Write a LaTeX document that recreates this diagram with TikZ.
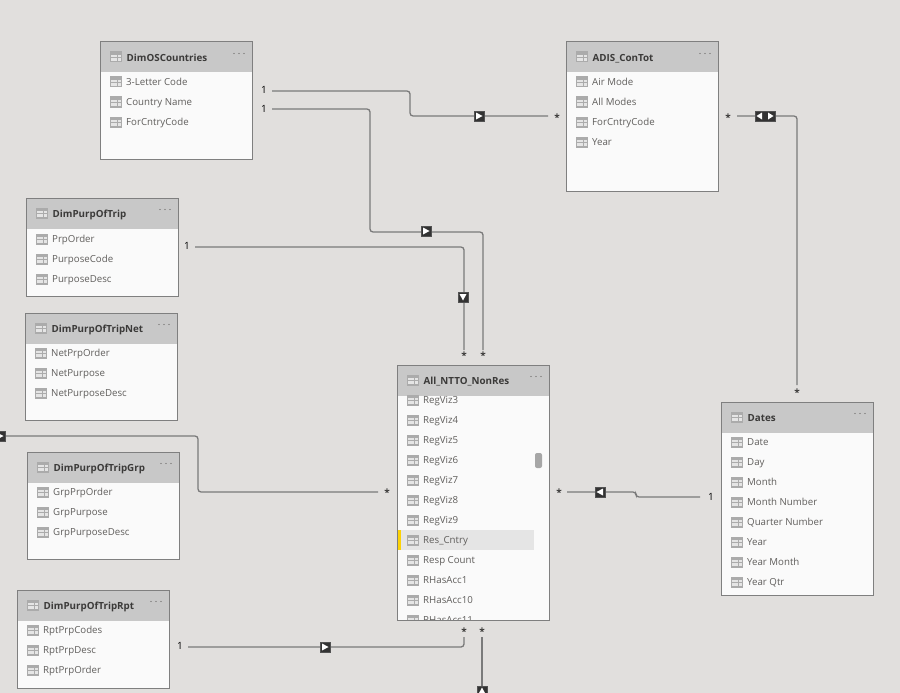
\documentclass[tikz,border=0pt]{standalone}
\usepackage{fontspec}
\setmainfont{Open Sans}
\usetikzlibrary{calc}
\definecolor{bgc}{HTML}{E1DFDD}
\definecolor{hdc}{HTML}{C8C8C8}
\definecolor{bodyc}{HTML}{FAFAFA}
\definecolor{edgec}{HTML}{7F7F7F}
\definecolor{txtc}{HTML}{605E5C}
\definecolor{ttlc}{HTML}{3B3A39}
\definecolor{linec}{HTML}{7A7A7A}
\definecolor{iconc}{HTML}{ABABAB}
\definecolor{mkc}{HTML}{333333}
\tikzset{
  x=1pt,y=-1pt,
  tablebox/.style={draw=edgec,line width=1pt,fill=bodyc,inner sep=0pt,outer sep=0pt,minimum width=152pt,anchor=north west},
  fieldtxt/.style={anchor=base west,inner sep=0pt,text=txtc,font=\fontsize{9.7}{11}\selectfont},
  titletxt/.style={anchor=base west,inner sep=0pt,text=ttlc,font=\fontsize{9.8}{11}\selectfont\bfseries},
  cardone/.style={inner sep=0pt,text=black,font=\fontsize{10}{11}\selectfont},
  cardmany/.style={inner sep=0pt,text=ttlc,font=\fontsize{10}{10}\selectfont\bfseries},
  rel/.style={draw=linec,line width=1.3pt,rounded corners=3pt},
  relmark/.style={fill=mkc,draw=mkc!85!white,inner sep=0pt,minimum size=10pt},
  relmarkwide/.style={fill=mkc,draw=mkc!85!white,inner sep=0pt,minimum width=20pt,minimum height=10pt},
}
% grid icon: #1 x, #2 y centre
\newcommand{\gridicon}[2]{%
  \fill[iconc] (#1-6,#2-5.5) rectangle (#1+6,#2+5.5);
  \fill[white!90!black] (#1-5,#2-2.4) rectangle (#1-2,#2-0.4);
  \fill[white!90!black] (#1-1.2,#2-2.4) rectangle (#1+1.2,#2-0.4);
  \fill[white!90!black] (#1+2,#2-2.4) rectangle (#1+5,#2-0.4);
  \fill[white!90!black] (#1-5,#2+0.6) rectangle (#1-2,#2+4.4);
  \fill[white!90!black] (#1-1.2,#2+0.6) rectangle (#1+1.2,#2+4.4);
  \fill[white!90!black] (#1+2,#2+0.6) rectangle (#1+5,#2+4.4);
}
% table frame: name, x, y, height, title
\newcommand{\tableframe}[5]{%
  \node[tablebox,minimum height=#4pt] (#1) at (#2-0.5,#3) {};
  \fill[hdc] (#2-0.5,#3) rectangle (#2+151.5,#3+30.5);
  \draw[edgec,line width=1pt] (#2-0.5,#3) rectangle (#2+151.5,#3+#4);
  \gridicon{#2+14.5}{#3+15}
  \node[titletxt] (#1-t) at (#2+25.5,#3+19.5) {#5};
  \foreach \d in {0,5,10} \fill[txtc] (#2+133+\d,#3+11.5) circle (0.6);
}
% field row: x of table, y centre, name
\newcommand{\fieldrow}[3]{%
  \gridicon{#1+14.5}{#2}
  \node[fieldtxt] at (#1+25,#2+3.6) {#3};
}
% marker: name, x, y, rotation (0 = points right)
\newcommand{\mkr}[4]{%
  \node[relmark] (#1) at (#2,#3) {};
  \fill[white,rotate around={#4:(#1.center)}] ($(#1.center)+(-3,-3.5)$) -- ($(#1.center)+(3.5,0)$) -- ($(#1.center)+(-3,3.5)$) -- cycle;
}
\begin{document}
\begin{tikzpicture}
\useasboundingbox (0,0) rectangle (900,693);
\fill[bgc] (0,0) rectangle (900,693);

% --- tables
\tableframe{os}{101}{42}{117}{DimOSCountries}
\fieldrow{101}{82}{3-Letter Code}
\fieldrow{101}{102}{Country Name}
\fieldrow{101}{122}{ForCntryCode}

\tableframe{adis}{567}{42}{149}{ADIS\_ConTot}
\fieldrow{567}{82}{Air Mode}
\fieldrow{567}{102}{All Modes}
\fieldrow{567}{122}{ForCntryCode}
\fieldrow{567}{142}{Year}

\tableframe{trip}{27}{198}{98}{DimPurpOfTrip}
\fieldrow{27}{239}{PrpOrder}
\fieldrow{27}{259}{PurposeCode}
\fieldrow{27}{279}{PurposeDesc}

\tableframe{net}{26}{313}{107}{DimPurpOfTripNet}
\fieldrow{26}{353}{NetPrpOrder}
\fieldrow{26}{373}{NetPurpose}
\fieldrow{26}{393}{NetPurposeDesc}

\tableframe{grp}{28}{452}{107}{DimPurpOfTripGrp}
\fieldrow{28}{492}{GrpPrpOrder}
\fieldrow{28}{512}{GrpPurpose}
\fieldrow{28}{532}{GrpPurposeDesc}

\tableframe{rpt}{18}{590}{98}{DimPurpOfTripRpt}
\fieldrow{18}{630}{RptPrpCodes}
\fieldrow{18}{650}{RptPrpDesc}
\fieldrow{18}{670}{RptPrpOrder}

\tableframe{dates}{722}{402}{193}{Dates}
\fieldrow{722}{442}{Date}
\fieldrow{722}{462}{Day}
\fieldrow{722}{482}{Month}
\fieldrow{722}{502}{Month Number}
\fieldrow{722}{522}{Quarter Number}
\fieldrow{722}{542}{Year}
\fieldrow{722}{562}{Year Month}
\fieldrow{722}{582}{Year Qtr}

\tableframe{ntto}{398}{365}{255}{All\_NTTO\_NonRes}
\fill[black!10] (398,530) rectangle (534,550);
\fill[yellow!70!orange] (397.5,530) rectangle (401,550);
\begin{scope}
\clip (398,395.5) rectangle (549,619.5);
\fieldrow{398}{400}{RegViz3}
\fieldrow{398}{420}{RegViz4}
\fieldrow{398}{440}{RegViz5}
\fieldrow{398}{460}{RegViz6}
\fieldrow{398}{480}{RegViz7}
\fieldrow{398}{500}{RegViz8}
\fieldrow{398}{520}{RegViz9}
\fieldrow{398}{540}{Res\_Cntry}
\fieldrow{398}{560}{Resp Count}
\fieldrow{398}{580}{RHasAcc1}
\fieldrow{398}{600}{RHasAcc10}
\fieldrow{398}{620}{RHasAcc11}
\end{scope}
\fill[black!35,rounded corners=2pt] (535,453) rectangle (542,468);

% --- cardinality labels
\node[cardone] (a1) at (264,90) {1};
\node[cardmany] (a2) at (557,118) {*};
\node[cardone] (b1) at (264,109) {1};
\node[cardmany] (b2) at (483,356) {*};
\node[cardone] (c1) at (187,246) {1};
\node[cardmany] (c2) at (464,356) {*};
\node[cardmany] (d1) at (728,118) {*};
\node[cardmany] (d2) at (797,393) {*};
\node[cardmany] (e2) at (387,493) {*};
\node[cardmany] (f1) at (559,493) {*};
\node[cardone] (f2) at (711,497) {1};
\node[cardone] (g1) at (180,646) {1};
\node[cardmany] (g2) at (464,632) {*};
\node[cardmany] (h1) at (482,632) {*};
\coordinate (eL) at (0,436);
\coordinate (hB) at (482,693);

% --- connectors
\draw[rel] ($(a1.center)+(8,1)$) -- (410,91) -- (410,116) -- ($(a2.center)+(-9,-2)$);
\draw[rel] ($(b1.center)+(8,0)$) -- (370,109) -- (370,232) -- (483,232) -- ($(b2.center)+(0,-6)$);
\draw[rel] ($(c1.center)+(8,1)$) -- (464,247) -- ($(c2.center)+(0,-6)$);
\draw[rel] ($(d1.center)+(9,-2)$) -- (797,116) -- ($(d2.center)+(0,-8)$);
\draw[rel] (eL) -- (198,436) -- (198,492) -- ($(e2.center)+(-9,-1)$);
\draw[rel] ($(f1.center)+(8,-1)$) -- (636,492) -- (636,497) -- ($(f2.center)+(-11,0)$);
\draw[rel] ($(g1.center)+(8,1)$) -- (464,647) -- ($(g2.center)+(0,5)$);
\draw[rel] ($(h1.center)+(0,5)$) -- (hB);

% --- direction markers
\mkr{m1}{479}{116}{0}
\mkr{m2}{426}{231}{0}
\mkr{m3}{463}{297}{-90}
\mkr{m5}{0}{436}{0}
\mkr{m6}{600}{492}{180}
\mkr{m7}{325}{647}{0}
\mkr{m8}{482}{691}{90}
\node[relmarkwide] (m4) at (765,116) {};
\fill[white] (762,112.5) -- (762,119.5) -- (756.5,116) -- cycle;
\fill[white] (768,112.5) -- (768,119.5) -- (773.5,116) -- cycle;
\end{tikzpicture}
\end{document}
